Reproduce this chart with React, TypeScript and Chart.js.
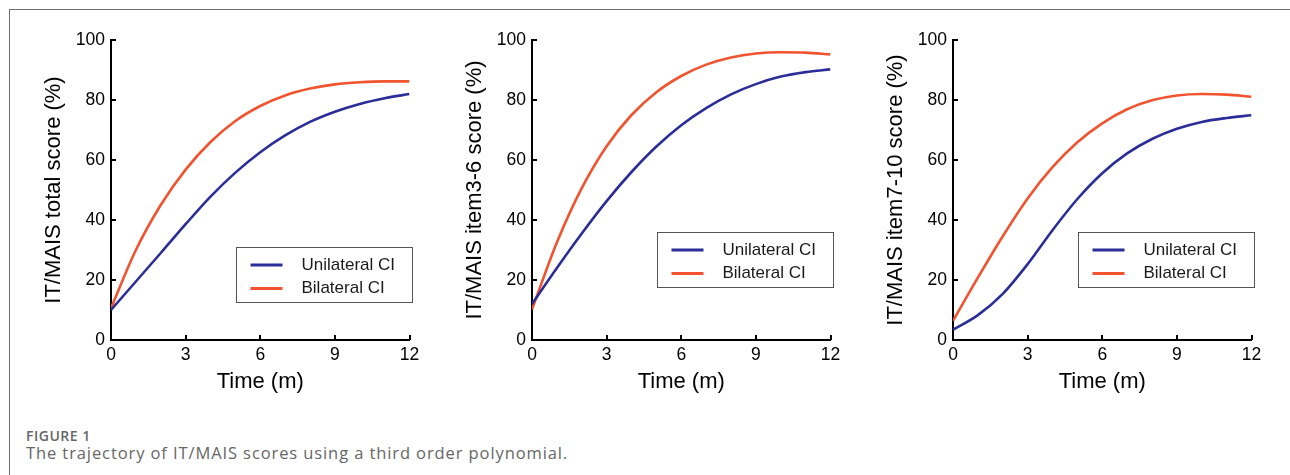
import React, { useEffect, useRef } from "react";
import { Chart, registerables } from "chart.js";

Chart.register(...registerables);

// ---- data ----
const months = [0, 1, 2, 3, 4, 5, 6, 7, 8, 9, 10, 11, 12];
const xTickValues = [0, 3, 6, 9, 12];
const yTickValues = [0, 20, 40, 60, 80, 100];
const seriesLabels = ["Unilateral CI", "Bilateral CI"];
const xTitle = "Time (m)";
const yTitles = [
  "IT/MAIS total score (%)",
  "IT/MAIS item3-6 score (%)",
  "IT/MAIS item7-10 score (%)",
];

const totalUnilateral = [10.0, 19.5, 29.0, 38.6, 47.8, 55.8, 62.6, 68.2, 72.7, 76.1, 78.7, 80.6, 82.0];
const totalBilateral = [10.6, 30.0, 45.0, 56.8, 66.0, 73.0, 78.0, 81.5, 83.8, 85.2, 85.9, 86.2, 86.2];
const item36Unilateral = [12.0, 24.0, 35.5, 46.3, 56.0, 64.5, 71.6, 77.3, 81.9, 85.3, 87.8, 89.3, 90.2];
const item36Bilateral = [10.2, 32.5, 50.6, 64.6, 75.0, 82.6, 88.0, 91.8, 94.2, 95.5, 95.9, 95.8, 95.2];
const item710Unilateral = [3.4, 8.3, 15.4, 25.3, 36.6, 47.0, 55.6, 62.2, 67.0, 70.4, 72.7, 74.0, 74.9];
const item710Bilateral = [6.4, 20.8, 34.6, 47.2, 57.6, 65.9, 72.2, 76.9, 79.9, 81.5, 82.0, 81.8, 81.1];

const captionLabel = "FIGURE 1";
const captionText = "The trajectory of IT/MAIS scores using a third order polynomial.";

// ---- styles ----
const BLUE = "#2b2e98";
const RED = "#f1532f";
const FONT = "'Liberation Sans', Arial, Helvetica, sans-serif";

const innerTicksPlugin = {
  id: "innerTicks",
  afterDraw(chart: any) {
    const { ctx, chartArea: a, scales } = chart;
    ctx.save();
    ctx.strokeStyle = "#000";
    ctx.lineWidth = 2;
    scales.x.ticks.forEach((t: any) => {
      const px = Math.round(scales.x.getPixelForValue(t.value));
      ctx.beginPath();
      ctx.moveTo(px, a.bottom);
      ctx.lineTo(px, a.bottom - 5);
      ctx.stroke();
    });
    scales.y.ticks.forEach((t: any) => {
      const py = Math.round(scales.y.getPixelForValue(t.value));
      ctx.beginPath();
      ctx.moveTo(a.left, py);
      ctx.lineTo(a.left + 5, py);
      ctx.stroke();
    });
    ctx.restore();
  },
};

const boxLegendPlugin = {
  id: "boxLegend",
  afterDraw(chart: any, _args: any, opts: any) {
    const { ctx, chartArea: a } = chart;
    const bx = Math.round(a.left + 125) + 0.5;
    const by = Math.round(opts.top) + 0.5;
    const bw = 176;
    const bh = 55;
    ctx.save();
    ctx.fillStyle = "#fff";
    ctx.fillRect(bx, by, bw, bh);
    ctx.strokeStyle = "#555";
    ctx.lineWidth = 1;
    ctx.strokeRect(bx, by, bw, bh);
    chart.data.datasets.forEach((ds: any, i: number) => {
      const y = by + 17.5 + i * 23.5;
      ctx.strokeStyle = ds.borderColor;
      ctx.lineWidth = 3;
      ctx.beginPath();
      ctx.moveTo(bx + 14, y);
      ctx.lineTo(bx + 46, y);
      ctx.stroke();
      ctx.fillStyle = "#1a1a1a";
      ctx.font = `17px ${FONT}`;
      ctx.textBaseline = "middle";
      ctx.textAlign = "left";
      ctx.fillText(ds.label, bx + 65, y);
    });
    ctx.restore();
  },
};

type PanelProps = {
  left: number;
  yTitle: string;
  unilateral: number[];
  bilateral: number[];
  legendTop: number;
};

function Panel({ left, yTitle, unilateral, bilateral, legendTop }: PanelProps) {
  const ref = useRef<HTMLCanvasElement>(null);
  useEffect(() => {
    const chart = new Chart(ref.current as HTMLCanvasElement, {
      type: "line",
      data: {
        datasets: [
          {
            label: seriesLabels[0],
            data: months.map((m, i) => ({ x: m, y: unilateral[i] })),
            borderColor: BLUE,
            backgroundColor: BLUE,
            borderWidth: 2.6,
            pointRadius: 0,
            cubicInterpolationMode: "monotone",
            fill: false,
          },
          {
            label: seriesLabels[1],
            data: months.map((m, i) => ({ x: m, y: bilateral[i] })),
            borderColor: RED,
            backgroundColor: RED,
            borderWidth: 2.6,
            pointRadius: 0,
            cubicInterpolationMode: "monotone",
            fill: false,
          },
        ],
      },
      options: {
        animation: false,
        responsive: false,
        maintainAspectRatio: false,
        events: [],
        layout: { padding: { top: 40, right: 10.5, bottom: 0, left: 0 } },
        plugins: {
          legend: { display: false },
          tooltip: { enabled: false },
          boxLegend: { top: legendTop },
        } as any,
        scales: {
          x: {
            type: "linear",
            min: 0,
            max: 12,
            afterBuildTicks: (s: any) => {
              s.ticks = xTickValues.map((v) => ({ value: v }));
            },
            ticks: {
              padding: 5,
              color: "#000",
              font: { family: FONT, size: 17.5 },
              maxRotation: 0,
            },
            grid: { display: false, drawTicks: false },
            border: { display: true, color: "#000", width: 2 },
            title: {
              display: true,
              text: xTitle,
              color: "#000",
              font: { family: FONT, size: 22 },
              padding: { top: 0, bottom: 15 },
            },
            afterFit: (s: any) => {
              s.height = 70;
              s.paddingLeft = 0;
              s.paddingRight = 0;
            },
          },
          y: {
            type: "linear",
            min: 0,
            max: 100,
            afterBuildTicks: (s: any) => {
              s.ticks = yTickValues.map((v) => ({ value: v }));
            },
            ticks: {
              padding: 6,
              color: "#000",
              font: { family: FONT, size: 17.5 },
            },
            grid: { display: false, drawTicks: false },
            border: { display: true, color: "#000", width: 2 },
            title: {
              display: true,
              text: yTitle,
              color: "#000",
              font: { family: FONT, size: 22 },
              padding: { top: 41, bottom: 0 },
            },
            afterFit: (s: any) => {
              s.width = 111;
              s.paddingTop = 0;
              s.paddingBottom = 0;
            },
          },
        },
      } as any,
      plugins: [innerTicksPlugin, boxLegendPlugin],
    });
    return () => chart.destroy();
  }, []);
  return (
    <canvas
      ref={ref}
      width={420}
      height={410}
      style={{ position: "absolute", left, top: 0, width: 420, height: 410 }}
    />
  );
}

export default function App() {
  return (
    <div
      style={{
        position: "fixed",
        left: 0,
        top: 0,
        width: 1290,
        height: 475,
        background: "#fff",
        overflow: "hidden",
      }}
    >
      <div style={{ position: "absolute", left: 9, top: 9, width: 1281, height: 1, background: "#6e6e6e" }} />
      <div style={{ position: "absolute", left: 9, top: 9, width: 1, height: 466, background: "#6e6e6e" }} />
      <Panel left={0} yTitle={yTitles[0]} unilateral={totalUnilateral} bilateral={totalBilateral} legendTop={247} />
      <Panel left={421} yTitle={yTitles[1]} unilateral={item36Unilateral} bilateral={item36Bilateral} legendTop={232} />
      <Panel left={842} yTitle={yTitles[2]} unilateral={item710Unilateral} bilateral={item710Bilateral} legendTop={232} />
      <div
        style={{
          position: "absolute",
          left: 26,
          top: 428.6,
          fontFamily: "'Open Sans', sans-serif",
          fontWeight: 600,
          fontSize: 14,
          lineHeight: "14px",
          letterSpacing: "0.5px",
          color: "#666",
          whiteSpace: "nowrap",
        }}
      >
        {captionLabel}
      </div>
      <div
        style={{
          position: "absolute",
          left: 26,
          top: 444.5,
          fontFamily: "'Open Sans', sans-serif",
          fontSize: 16.5,
          lineHeight: "16.5px",
          letterSpacing: "0.9px",
          color: "#666",
          whiteSpace: "nowrap",
        }}
      >
        {captionText}
      </div>
    </div>
  );
}
